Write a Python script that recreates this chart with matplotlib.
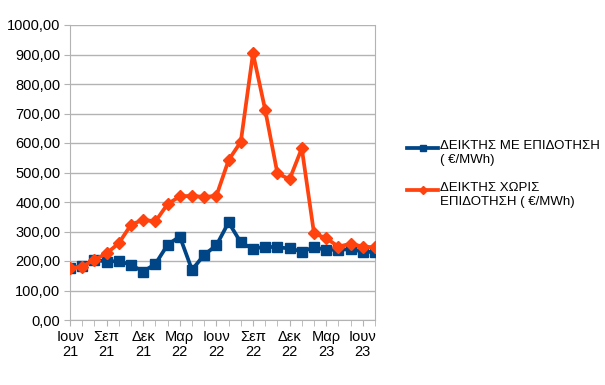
import matplotlib
matplotlib.use('Agg')
import matplotlib.pyplot as plt
from matplotlib.lines import Line2D

plt.rcParams['font.family'] = ['Liberation Sans', 'DejaVu Sans']

# --- data: monthly index, Jun 2021 .. Jul 2023 ---
months = ['Ιουν 21', 'Ιουλ 21', 'Αυγ 21', 'Σεπ 21', 'Οκτ 21', 'Νοε 21', 'Δεκ 21',
          'Ιαν 22', 'Φεβ 22', 'Μαρ 22', 'Απρ 22', 'Μαι 22', 'Ιουν 22', 'Ιουλ 22',
          'Αυγ 22', 'Σεπ 22', 'Οκτ 22', 'Νοε 22', 'Δεκ 22', 'Ιαν 23', 'Φεβ 23',
          'Μαρ 23', 'Απρ 23', 'Μαι 23', 'Ιουν 23', 'Ιουλ 23']
with_subsidy = [175, 183, 204, 198, 200, 187, 164, 190, 255, 283, 170, 221, 253,
                331, 263, 241, 249, 246, 243, 232, 246, 238, 238, 240, 232, 230]
without_subsidy = [175, 181, 204, 226, 260, 323, 340, 334, 393, 419, 421, 417, 421,
                   542, 604, 904, 712, 497, 477, 582, 294, 277, 249, 258, 249, 246]
label_with = 'ΔΕΙΚΤΗΣ ΜΕ ΕΠΙΔΟΤΗΣΗ\n( €/MWh)'
label_without = 'ΔΕΙΚΤΗΣ ΧΩΡΙΣ\nΕΠΙΔΟΤΗΣΗ ( €/MWh)'

BLUE = '#004586'
ORANGE = '#ff420e'
GRID = '#b3b3b3'

fig = plt.figure(figsize=(6.05, 3.85), dpi=100)
ax = fig.add_axes([70 / 605, 1 - 320 / 385, 305 / 605, 295 / 385])

x = list(range(len(months)))
ax.plot(x, with_subsidy, color=BLUE, lw=2.7, marker='s', ms=7.5, zorder=3)
ax.plot(x, without_subsidy, color=ORANGE, lw=2.7, marker='D', ms=6, zorder=4)

ax.set_xlim(0, len(months) - 1)
ax.set_ylim(0, 1000)
ax.set_yticks(range(0, 1001, 100))
ax.set_yticklabels([f'{v},00' for v in range(0, 1001, 100)], fontsize=10.5)

major = list(range(0, len(months), 3))
ax.set_xticks(major)
ax.set_xticklabels([months[i].replace(' ', '\n') for i in major], fontsize=10.5,
                   linespacing=1.1)
ax.set_xticks(x, minor=True)
ax.tick_params(axis='x', which='both', length=4, color=GRID, pad=3)
ax.tick_params(axis='y', length=4, color=GRID, pad=3)

ax.grid(axis='y', color=GRID, lw=1)
ax.set_axisbelow(True)
for side in ['left', 'bottom', 'right']:
    ax.spines[side].set_color(GRID)
ax.spines['top'].set_visible(False)

# legend, handle aligned with the first text line
for y, color, mk, ms, lab in [(148, BLUE, 's', 5, label_with),
                              (190, ORANGE, 'D', 4, label_without)]:
    yf = 1 - y / 385
    fig.add_artist(Line2D([407 / 605, 438 / 605], [yf, yf], color=color, lw=2.7,
                          transform=fig.transFigure))
    fig.add_artist(Line2D([422.5 / 605], [yf], color=color, marker=mk, ms=ms,
                          transform=fig.transFigure))
    fig.text(440 / 605, yf + 8 / 385, lab, fontsize=9.5, va='top', ha='left',
             linespacing=1.25)

fig.savefig('out.png', dpi=100)
